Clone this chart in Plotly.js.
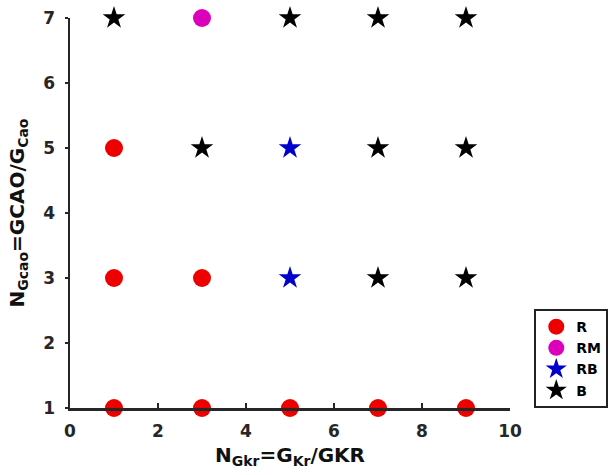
<!DOCTYPE html>
<html><head><meta charset="utf-8">
<script src="https://cdn.plot.ly/plotly-3.0.1.min.js"></script>
<style>body{margin:0;background:#fff}#c{width:612px;height:475px}</style>
</head><body><div id="c"></div>
<script>
const rX = [1,3,5,7,9,1,3,1];
const rY = [1,1,1,1,1,3,3,5];
const rmX = [3];
const rmY = [7];
const rbX = [5,5];
const rbY = [5,3];
const bX = [1,5,7,9,3,7,9,7,9];
const bY = [7,7,7,7,5,5,5,3,3];
const xTicks = [0,2,4,6,8,10];
const yTicks = [1,2,3,4,5,6,7];

const traces = [
  {x:rX,y:rY,name:'R',mode:'markers',type:'scatter',cliponaxis:false,marker:{symbol:'circle',size:18,color:'#ee0000'}},
  {x:rmX,y:rmY,name:'RM',mode:'markers',type:'scatter',cliponaxis:false,marker:{symbol:'circle',size:18,color:'#dd00bb'}},
  {x:rbX,y:rbY,name:'RB',mode:'markers',type:'scatter',cliponaxis:false,marker:{symbol:'star',size:17,color:'#0000cc'}},
  {x:bX,y:bY,name:'B',mode:'markers',type:'scatter',cliponaxis:false,marker:{symbol:'star',size:17,color:'#000000'}}
];
const fnt = {family:'DejaVu Sans', size:17, color:'#262626', weight:'bold'};
const tfnt = {family:'DejaVu Sans',size:20,color:'#111',weight:'bold'};
const layout = {
  width:612,height:475,
  margin:{l:70,r:102,t:18,b:67},
  paper_bgcolor:'#fff',plot_bgcolor:'#fff',
  font:fnt,
  showlegend:true,
  legend:{xref:'container',yref:'container',x:0.873,xanchor:'left',y:0.141,yanchor:'bottom',bordercolor:'#222',borderwidth:2,bgcolor:'#fff',
    font:{family:'DejaVu Sans',size:14,color:'#000',weight:'bold'},tracegroupgap:0,itemwidth:30},
  xaxis:{range:[0,10],tickvals:xTicks,showgrid:false,zeroline:false,showline:true,linecolor:'#262626',linewidth:2.5,
    ticks:'inside',ticklen:5,tickwidth:2,tickcolor:'#262626',tickfont:fnt,ticklabelstandoff:6,
    title:{text:'N<sub>Gkr</sub>=G<sub>Kr</sub>/GKR',font:tfnt,standoff:8}},
  yaxis:{range:[1,7],tickvals:yTicks,showgrid:false,zeroline:false,showline:true,linecolor:'#262626',linewidth:2.5,
    ticks:'outside',ticklen:3,tickwidth:2,tickcolor:'#262626',tickfont:fnt,ticklabelstandoff:6,
    title:{text:'N<sub>Gcao</sub>=GCAO/G<sub>Cao</sub>',font:tfnt,standoff:14}}
};
Plotly.newPlot('c',traces,layout,{displayModeBar:false,staticPlot:true});
</script></body></html>
